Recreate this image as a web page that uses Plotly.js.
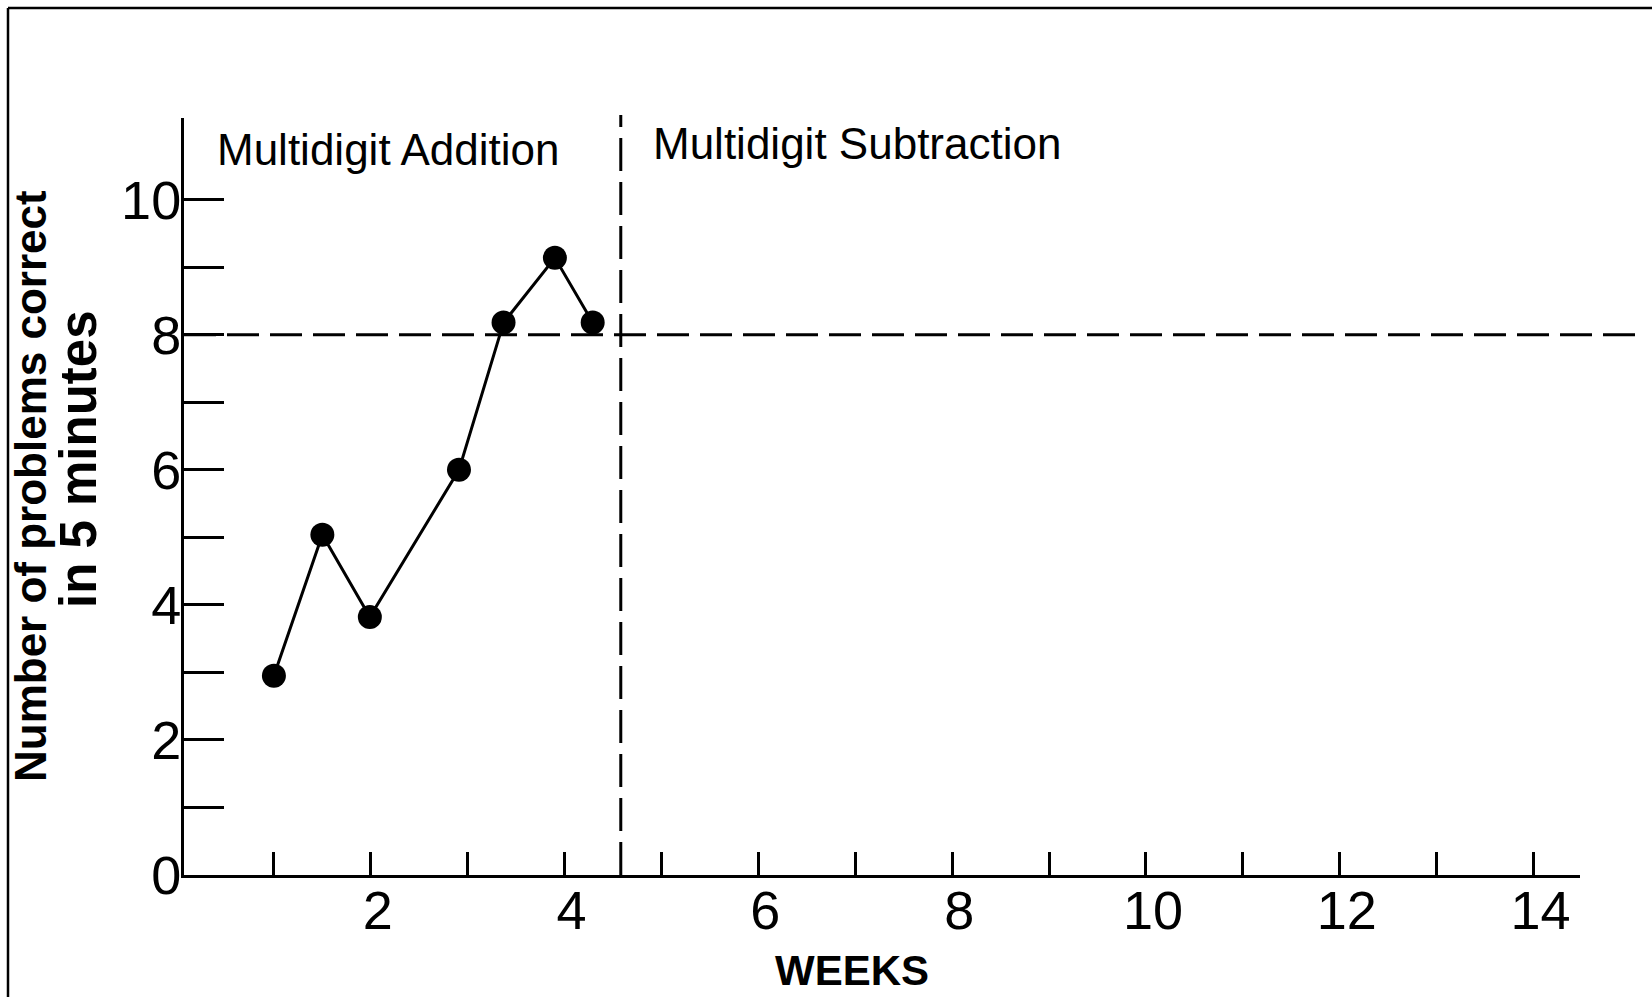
<!DOCTYPE html>
<html>
<head>
<meta charset="utf-8">
<script src="https://cdn.plot.ly/plotly-3.0.1.min.js"></script>
<style>
  html, body { margin: 0; padding: 0; background: #ffffff; }
  #chart { width: 1652px; height: 997px; }
</style>
</head>
<body>
<div id="chart"></div>
<script>
// ---- data ----
const weeks = [1.0, 1.5, 1.99, 2.91, 3.37, 3.9, 4.29];
const problemsCorrect = [2.95, 5.04, 3.82, 6.0, 8.18, 9.14, 8.18];

const goalValue = 8;          // aim line (problems correct)
const phaseChangeWeek = 4.58; // addition -> subtraction

const xTickVals = [1, 2, 3, 4, 5, 6, 7, 8, 9, 10, 11, 12, 13, 14];
const xTickText = ['', '2', '', '4', '', '6', '', '8', '', '10', '', '12', '', '14'];
const yTickVals = [0, 1, 2, 3, 4, 5, 6, 7, 8, 9, 10];
const yTickText = ['0', '', '2', '', '4', '', '6', '', '8', '', '10'];

const phaseLabels = ['Multidigit Addition', 'Multidigit Subtraction'];
const xTitle = 'WEEKS';
const yTitleLines = ['Number of problems correct', 'in 5 minutes'];

// ---- layout geometry ----
const W = 1652, H = 997;
const M = { l: 184, r: 72, t: 118, b: 122 };
const plotW = W - M.l - M.r, plotH = H - M.t - M.b;
const pxX = px => (px - M.l) / plotW;
const pxY = py => 1 - (py - M.t) / plotH;

const FONT = 'Liberation Sans, Arial, Helvetica, sans-serif';

const trace = {
  x: weeks,
  y: problemsCorrect,
  type: 'scatter',
  mode: 'lines+markers',
  line: { color: '#000000', width: 3 },
  marker: { color: '#000000', size: 24 },
  cliponaxis: false,
  hoverinfo: 'x+y',
  showlegend: false
};

const layout = {
  width: W,
  height: H,
  margin: M,
  paper_bgcolor: '#ffffff',
  plot_bgcolor: '#ffffff',
  font: { family: FONT, color: '#000000' },
  showlegend: false,
  xaxis: {
    range: [0.072, 14.48],
    tickvals: xTickVals,
    ticktext: xTickText,
    ticks: 'inside',
    ticklen: 23,
    tickwidth: 3,
    tickcolor: '#000000',
    ticklabelshift: 7,
    ticklabelstandoff: -14,
    showline: true,
    linewidth: 3,
    linecolor: '#000000',
    showgrid: false,
    zeroline: false,
    tickfont: { family: FONT, size: 54, color: '#000000' }
  },
  yaxis: {
    range: [0, 11.21],
    tickvals: yTickVals,
    ticktext: yTickText,
    ticks: 'inside',
    ticklen: 40,
    tickwidth: 3,
    tickcolor: '#000000',
    ticklabelstandoff: -11,
    showline: true,
    linewidth: 3,
    linecolor: '#000000',
    showgrid: false,
    zeroline: false,
    tickfont: { family: FONT, size: 54, color: '#000000' }
  },
  shapes: [
    { type: 'line', xref: 'paper', yref: 'y', x0: 0, x1: pxX(1641), y0: goalValue, y1: goalValue,
      line: { color: '#000000', width: 3, dash: '32px,11px' }, layer: 'below' },
    { type: 'line', xref: 'x', yref: 'paper', x0: phaseChangeWeek, x1: phaseChangeWeek, y0: 0, y1: pxY(115),
      line: { color: '#000000', width: 3, dash: '33px,11px' }, layer: 'below' },
    { type: 'line', xref: 'paper', yref: 'paper', x0: pxX(8), x1: pxX(1652), y0: pxY(8), y1: pxY(8),
      line: { color: '#000000', width: 2.5 } },
    { type: 'line', xref: 'paper', yref: 'paper', x0: pxX(8), x1: pxX(8), y0: pxY(8), y1: pxY(997),
      line: { color: '#000000', width: 2.5 } }
  ],
  annotations: [
    { text: phaseLabels[0], xref: 'x', yref: 'y', x: 0.39, y: 10.75, xanchor: 'left', yanchor: 'middle',
      showarrow: false, font: { family: FONT, size: 44, color: '#000000' } },
    { text: phaseLabels[1], xref: 'x', yref: 'y', x: 4.895, y: 10.83, xanchor: 'left', yanchor: 'middle',
      showarrow: false, font: { family: FONT, size: 44, color: '#000000' } },
    { text: xTitle, xref: 'paper', yref: 'paper', x: pxX(852), y: pxY(970), xanchor: 'center', yanchor: 'middle',
      showarrow: false, font: { family: FONT, size: 42, weight: 'bold', color: '#000000' } },
    { text: yTitleLines[0], xref: 'paper', yref: 'paper', x: pxX(30), y: pxY(486), xanchor: 'center', yanchor: 'middle',
      textangle: -90, showarrow: false, font: { family: FONT, size: 44, weight: 'bold', color: '#000000' } },
    { text: yTitleLines[1], xref: 'paper', yref: 'paper', x: pxX(78), y: pxY(459), xanchor: 'center', yanchor: 'middle',
      textangle: -90, showarrow: false, font: { family: FONT, size: 51, weight: 'bold', color: '#000000' } }
  ]
};

Plotly.newPlot('chart', [trace], layout, { displayModeBar: false, staticPlot: true });
</script>
</body>
</html>
